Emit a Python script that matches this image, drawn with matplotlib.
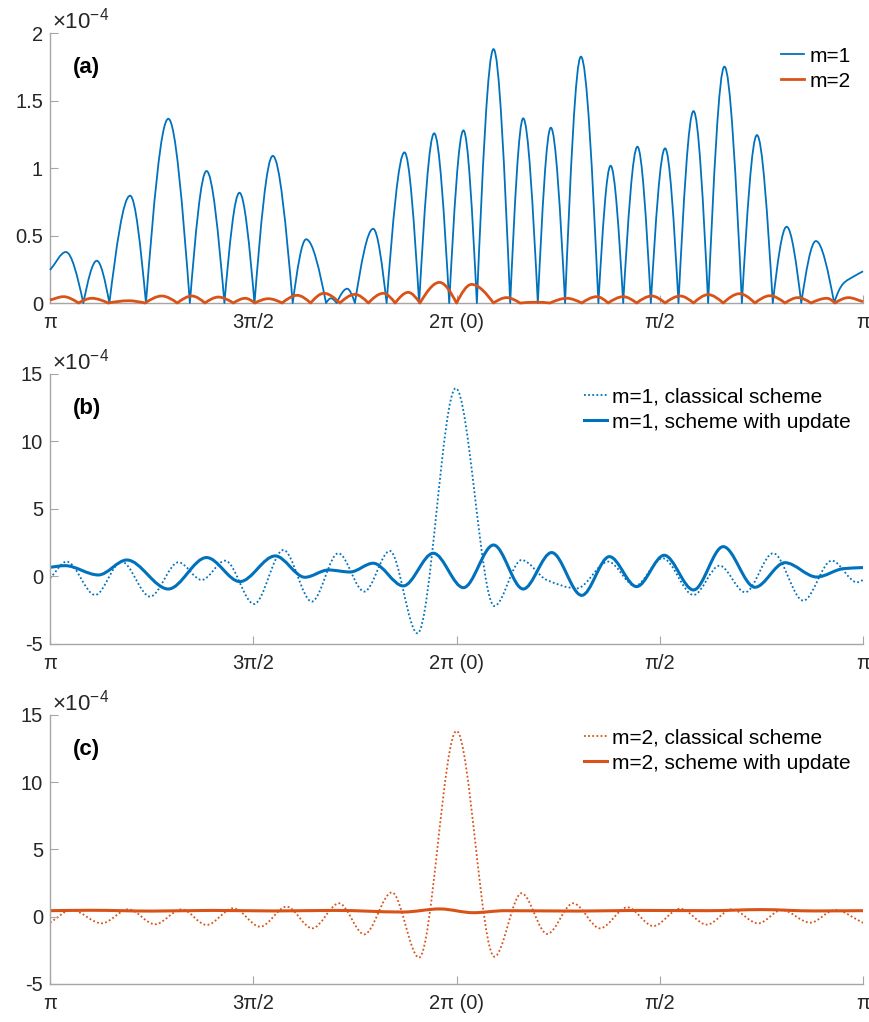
import numpy as np
import matplotlib.pyplot as plt
from matplotlib.path import Path
from matplotlib.patches import PathPatch
from matplotlib.lines import Line2D

plt.rcParams['font.family'] = ['Liberation Sans', 'DejaVu Sans']
plt.rcParams['mathtext.fontset'] = 'custom'
plt.rcParams['mathtext.rm'] = 'Liberation Sans'
plt.rcParams['mathtext.it'] = 'Liberation Sans:italic'
plt.rcParams['axes.unicode_minus'] = False

BLUE = '#0072BD'
ORANGE = '#D95319'

# x positions are in units of pi (1 -> pi, 2 -> 2pi, 3 -> 3pi)
xticks = [1, 1.5, 2, 2.5, 3]
xticklabels = ['π', '3π/2', '2π (0)', 'π/2', 'π']

# ---- panel (a), values in 1e-4 (peaks and zeros)
a_x1 = [1.000, 1.039, 1.082, 1.115, 1.146, 1.197, 1.236, 1.291, 1.344, 1.385,
        1.429, 1.466, 1.503, 1.548, 1.597, 1.630, 1.679, 1.691, 1.705, 1.731,
        1.750, 1.795, 1.828, 1.872, 1.908, 1.945, 1.982, 2.017, 2.050, 2.091,
        2.132, 2.164, 2.200, 2.232, 2.267, 2.306, 2.349, 2.379, 2.410, 2.445,
        2.478, 2.513, 2.546, 2.583, 2.619, 2.659, 2.702, 2.739, 2.778, 2.812,
        2.848, 2.884, 2.929, 2.952, 2.976, 3.000]
a_y1 = [0.244, 0.378, 0, 0.313, 0, 0.795, 0, 1.365, 0, 0.978,
        0, 0.817, 0, 1.09, 0, 0.472, 0, 0.035, 0, 0.106,
        0, 0.55, 0, 1.116, 0, 1.257, 0, 1.279, 0, 1.881,
        0, 1.368, 0, 1.299, 0, 1.825, 0, 1.017, 0, 1.158,
        0, 1.146, 0, 1.422, 0, 1.751, 0, 1.244, 0, 0.565,
        0, 0.459, 0, 0.146, 0.195, 0.235]

a_x2 = [1.000, 1.033, 1.070, 1.103, 1.143, 1.193, 1.234, 1.275, 1.313, 1.349,
        1.381, 1.414, 1.451, 1.480, 1.504, 1.537, 1.571, 1.608, 1.641, 1.674,
        1.713, 1.750, 1.783, 1.820, 1.849, 1.881, 1.910, 1.958, 2.000, 2.037,
        2.091, 2.123, 2.156, 2.197, 2.230, 2.271, 2.308, 2.345, 2.373, 2.410,
        2.443, 2.480, 2.513, 2.550, 2.583, 2.619, 2.656, 2.696, 2.734, 2.771,
        2.808, 2.840, 2.872, 2.911, 2.931, 2.964, 3.000]
a_y2 = [0.022, 0.047, 0, 0.035, 0, 0.017, 0, 0.052, 0, 0.052,
        0, 0.044, 0, 0.035, 0, 0.032, 0, 0.057, 0, 0.072,
        0, 0.064, 0, 0.072, 0, 0.079, 0, 0.153, 0, 0.138,
        0, 0.040, 0, 0.006, 0, 0.035, 0, 0.047, 0, 0.047,
        0, 0.052, 0, 0.052, 0, 0.062, 0, 0.069, 0, 0.054,
        0, 0.040, 0, 0.035, 0, 0.040, 0.010]

# ---- panel (b), m=1 : turning points
b_x_cl = [1.000, 1.041, 1.111, 1.176, 1.246, 1.316, 1.373, 1.431, 1.502, 1.574,
          1.644, 1.709, 1.773, 1.836, 1.904, 1.998, 2.093, 2.160, 2.222, 2.296,
          2.373, 2.439, 2.507, 2.583, 2.647, 2.710, 2.779, 2.853, 2.923, 2.985,
          3.000]
b_y_cl = [-0.14, 1.10, -1.37, 1.10, -1.49, 1.05, -0.26, 1.17, -2.04, 1.96,
          -1.86, 1.72, -1.12, 1.89, -4.21, 13.94, -2.19, 1.22, -0.26, -0.88,
          1.10, -0.70, 1.35, -1.37, 0.80, -1.17, 1.72, -1.79, 1.17, -0.43,
          -0.26]

b_x_up = [1.000, 1.037, 1.119, 1.189, 1.291, 1.385, 1.467, 1.554, 1.627, 1.685,
          1.738, 1.795, 1.869, 1.943, 2.017, 2.091, 2.164, 2.234, 2.308, 2.376,
          2.443, 2.511, 2.583, 2.656, 2.734, 2.808, 2.886, 2.952, 3.000]
b_y_up = [0.68, 0.80, 0.11, 1.22, -0.93, 1.40, -0.38, 1.52, -0.06, 0.48,
          0.33, 0.98, -0.70, 1.72, -0.83, 2.33, -0.93, 1.77, -1.40, 1.47,
          -0.75, 1.57, -1.00, 2.21, -0.80, 1.02, -0.04, 0.58, 0.66]

# ---- panel (c), m=2
c_x_cl = [1.000, 1.053, 1.127, 1.193, 1.258, 1.324, 1.385, 1.451, 1.517, 1.582,
          1.645, 1.711, 1.773, 1.841, 1.908, 2.000, 2.093, 2.160, 2.223, 2.287,
          2.353, 2.420, 2.484, 2.550, 2.616, 2.677, 2.742, 2.800, 2.870, 2.931,
          3.000]
c_y_cl = [-0.44, 0.50, -0.49, 0.55, -0.56, 0.55, -0.61, 0.63, -0.74, 0.75,
          -0.86, 1.00, -1.31, 1.81, -3.04, 13.81, -2.97, 1.75, -1.28, 1.00,
          -0.86, 0.70, -0.69, 0.60, -0.59, 0.55, -0.49, 0.50, -0.44, 0.50,
          -0.45]

c_x_up = [1.000, 1.100, 1.250, 1.400, 1.550, 1.700, 1.869, 1.959, 2.041, 2.120,
          2.300, 2.450, 2.620, 2.750, 2.880, 3.000]
c_y_up = [0.45, 0.48, 0.42, 0.47, 0.43, 0.47, 0.35, 0.58, 0.30, 0.45,
          0.42, 0.47, 0.45, 0.53, 0.43, 0.45]


def curve(ax, x, y, sharp_zero=False, **kw):
    # smooth cubic path through the read points, flat at turning points,
    # steep cusps where |f| touches zero
    x = np.asarray(x, float)
    y = np.asarray(y, float)
    s = np.diff(y) / np.diff(x)
    m = np.zeros(len(x))
    m[0], m[-1] = s[0], s[-1]
    for i in range(1, len(x) - 1):
        if s[i - 1] * s[i] > 0:
            m[i] = 2 / (1 / s[i - 1] + 1 / s[i])
    verts = [(x[0], y[0])]
    codes = [Path.MOVETO]
    for i in range(len(x) - 1):
        d = x[i + 1] - x[i]
        m0, m1 = m[i], m[i + 1]
        if sharp_zero and y[i] == 0:
            m0 = 1.56 * s[i]
        if sharp_zero and y[i + 1] == 0:
            m1 = 1.56 * s[i]
        verts += [(x[i] + d / 3, y[i] + m0 * d / 3),
                  (x[i + 1] - d / 3, y[i + 1] - m1 * d / 3),
                  (x[i + 1], y[i + 1])]
        codes += [Path.CURVE4] * 3
    ax.add_patch(PathPatch(Path(verts, codes), fill=False, joinstyle='round', **kw))


def style(ax, ylim, yticks, yticklabels, tag):
    ax.set_xlim(1, 3)
    ax.set_ylim(*ylim)
    for s in ['top', 'right']:
        ax.spines[s].set_visible(False)
    for s in ['left', 'bottom']:
        ax.spines[s].set_color('#a6a6a6')
        ax.spines[s].set_linewidth(1.0)
    ax.set_xticks(xticks)
    ax.set_xticklabels(xticklabels)
    ax.set_yticks(yticks)
    ax.set_yticklabels(yticklabels)
    ax.tick_params(direction='in', length=6, width=0.8, color='#a6a6a6',
                   labelsize=14.5, labelcolor='#262626')
    ax.tick_params(axis='x', pad=7)
    ax.tick_params(axis='y', pad=5)
    ax.text(0.002, 1.018, r'$\times10^{-4}$', transform=ax.transAxes,
            fontsize=16, color='#262626', ha='left', va='baseline')
    ax.text(0.028, 0.872, tag, transform=ax.transAxes, fontsize=16,
            fontweight='bold', ha='left', va='center')


fig = plt.figure(figsize=(8.7, 10.22), dpi=100)
ax_a = fig.add_axes([0.0575, 0.7035, 0.9345, 0.2642])
ax_b = fig.add_axes([0.0575, 0.3699, 0.9345, 0.2642])
ax_c = fig.add_axes([0.0575, 0.0372, 0.9345, 0.2632])

dots = (0, (1, 1.3))
leg_kw = dict(loc='upper right', frameon=False, fontsize=15, handlelength=1.1,
              handletextpad=0.25, borderpad=0, borderaxespad=0, labelspacing=0.3)

# (a)
curve(ax_a, a_x1, a_y1, sharp_zero=True, color=BLUE, lw=1.3, clip_on=False, zorder=3)
curve(ax_a, a_x2, a_y2, sharp_zero=True, color=ORANGE, lw=2.0, clip_on=False, zorder=3)
style(ax_a, (0, 2), [0, 0.5, 1, 1.5, 2], ['0', '0.5', '1', '1.5', '2'], '(a)')
ax_a.legend([Line2D([], [], color=BLUE, lw=1.3), Line2D([], [], color=ORANGE, lw=2.0)],
            ['m=1', 'm=2'], bbox_to_anchor=(0.985, 0.95), **leg_kw)

# (b)
curve(ax_b, b_x_cl, b_y_cl, color=BLUE, lw=1.3, linestyle=dots)
curve(ax_b, b_x_up, b_y_up, color=BLUE, lw=2.2)
style(ax_b, (-5, 15), [-5, 0, 5, 10, 15], ['-5', '0', '5', '10', '15'], '(b)')
ax_b.legend([Line2D([], [], color=BLUE, lw=1.3, ls=dots), Line2D([], [], color=BLUE, lw=2.2)],
            ['m=1, classical scheme', 'm=1, scheme with update'],
            bbox_to_anchor=(0.985, 0.95), **leg_kw)

# (c)
curve(ax_c, c_x_cl, c_y_cl, color=ORANGE, lw=1.3, linestyle=dots)
curve(ax_c, c_x_up, c_y_up, color=ORANGE, lw=2.2)
style(ax_c, (-5, 15), [-5, 0, 5, 10, 15], ['-5', '0', '5', '10', '15'], '(c)')
ax_c.legend([Line2D([], [], color=ORANGE, lw=1.3, ls=dots), Line2D([], [], color=ORANGE, lw=2.2)],
            ['m=2, classical scheme', 'm=2, scheme with update'],
            bbox_to_anchor=(0.985, 0.95), **leg_kw)

fig.savefig('out.png', dpi=100)
